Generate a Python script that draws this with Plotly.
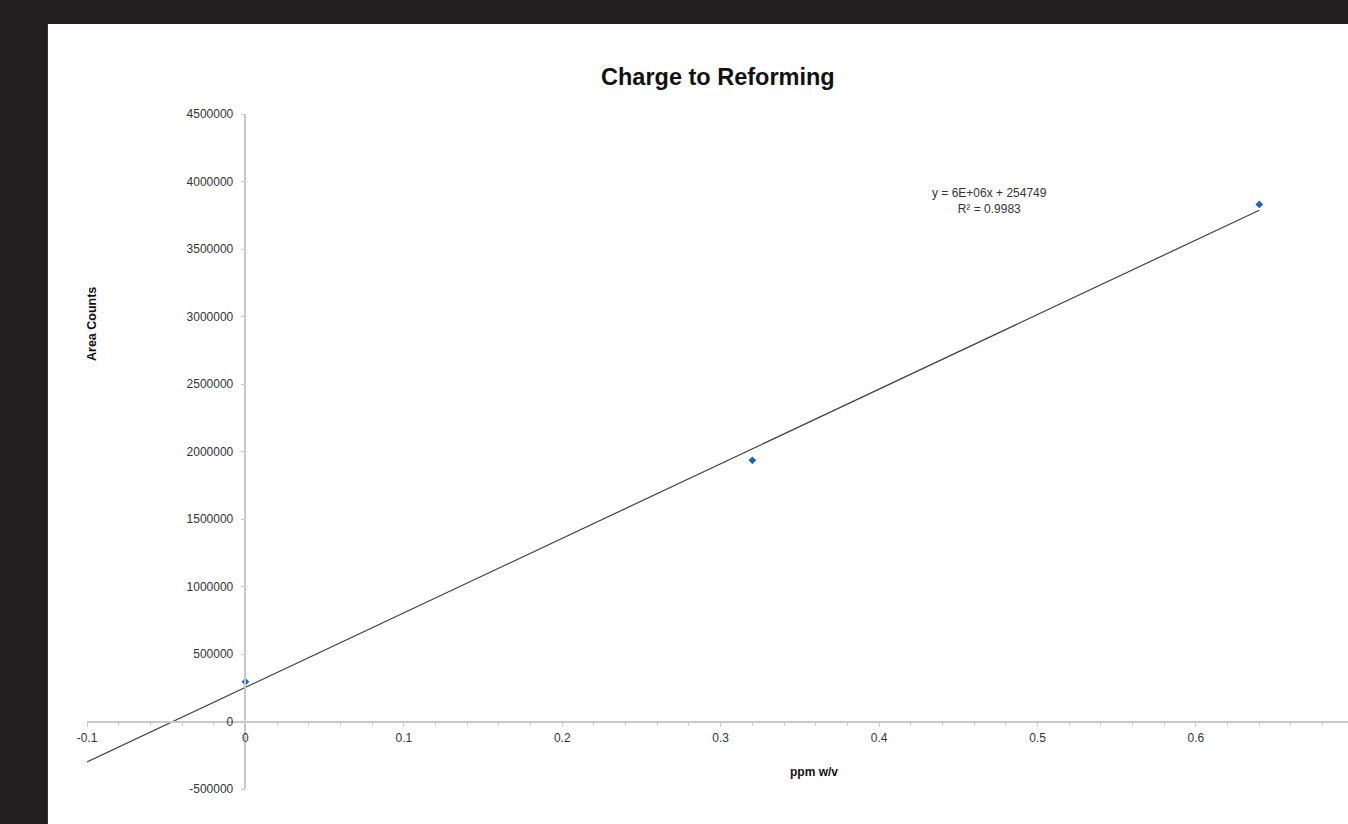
import numpy as np
import plotly.graph_objects as go

# Data
conc_ppm = [0.0, 0.32, 0.64]
area_counts = [295000, 1935000, 3830000]
trend_x_range = [-0.1, 0.64]
y_ticks = [-500000, 0, 500000, 1000000, 1500000, 2000000, 2500000, 3000000, 3500000, 4000000, 4500000]
x_ticks = [-0.1, 0, 0.1, 0.2, 0.3, 0.4, 0.5, 0.6, 0.7]
title = "Charge to Reforming"
x_title = "ppm w/v"
y_title = "Area Counts"
eq_text = "y = 6E+06x + 254749<br>R² = 0.9983"

FONT = "Liberation Sans, Arial, sans-serif"
AX = "#c8c8c8"
TXT = "#333333"

slope, intercept = np.polyfit(conc_ppm, area_counts, 1)
tx = np.array(trend_x_range)
ty = slope * tx + intercept

xr = [-0.1, 0.696]
yr = [-500000, 4500000]

fig = go.Figure()
fig.add_trace(go.Scatter(x=tx, y=ty, mode="lines",
                         line=dict(color="#404040", width=1.2), hoverinfo="skip", showlegend=False))
fig.add_trace(go.Scatter(x=conc_ppm, y=area_counts, mode="markers",
                         marker=dict(symbol="diamond", size=6, color="#1f64b8"), showlegend=False))

fig.update_layout(
    width=1348, height=824,
    margin=dict(l=87, r=0, t=114, b=35),
    paper_bgcolor="#231f20",
    plot_bgcolor="white",
    font=dict(family=FONT, size=12, color=TXT),
    showlegend=False,
    shapes=[dict(type="rect", xref="paper", yref="paper", x0=-0.031, x1=1.2, y0=-0.2, y1=1.1333,
                 fillcolor="white", line=dict(width=0), layer="below")],
    xaxis=dict(range=xr, domain=[0, 1], anchor="free", position=(0 - yr[0]) / (yr[1] - yr[0]),
               showline=True, linecolor=AX, linewidth=1.5, showgrid=False, zeroline=False,
               tickmode="array", tickvals=x_ticks, ticktext=[("%g" % v) for v in x_ticks],
               ticks="outside", ticklen=5, tickcolor=AX, tickwidth=1,
               minor=dict(dtick=0.02, tick0=0, ticks="outside", ticklen=4, tickcolor=AX, tickwidth=1),
               tickfont=dict(size=12, color=TXT), fixedrange=True),
    yaxis=dict(range=yr, domain=[0, 1], anchor="free", position=(0 - xr[0]) / (xr[1] - xr[0]),
               showline=True, linecolor=AX, linewidth=1.5, showgrid=False, zeroline=False,
               tickmode="array", tickvals=y_ticks, ticktext=[str(v) for v in y_ticks],
               ticks="outside", ticklen=4, tickcolor=AX, tickwidth=1,
               ticklabelstandoff=5,
               tickfont=dict(size=12, color=TXT), fixedrange=True),
    annotations=[
        dict(text="<b>" + title + "</b>", xref="paper", yref="paper", x=0.5, y=1 + (114 - 77) / 675,
             xanchor="center", yanchor="middle", showarrow=False,
             font=dict(family=FONT, size=23.5, color="#111111")),
        dict(text="<b>" + x_title + "</b>", xref="paper", yref="paper", x=(814 - 87) / 1261,
             y=(789 - 772) / 675, xanchor="center", yanchor="middle", showarrow=False,
             font=dict(family=FONT, size=12, color="#111111")),
        dict(text="<b>" + y_title + "</b>", xref="paper", yref="paper", x=(92 - 87) / 1261,
             y=(789 - 324) / 675, xanchor="center", yanchor="middle", textangle=-90, showarrow=False,
             font=dict(family=FONT, size=12.5, color="#111111")),
        dict(text=eq_text, xref="x", yref="y", x=0.47, y=3857000, xanchor="center", yanchor="middle",
             align="center", showarrow=False, font=dict(family=FONT, size=12, color="#333333")),
    ],
)

fig.write_html("out.html", config={"displayModeBar": False},
               post_script="document.body.style.margin='0';document.body.style.overflow='hidden';")
